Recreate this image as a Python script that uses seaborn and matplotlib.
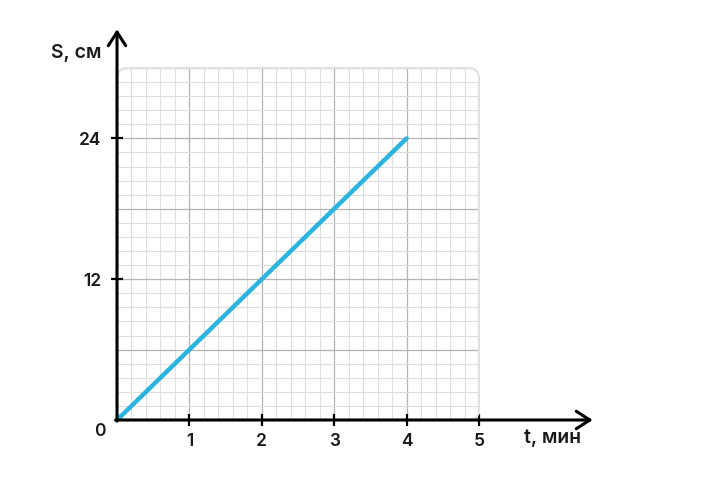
import matplotlib
matplotlib.use("Agg")
import matplotlib.pyplot as plt
import seaborn as sns
import pandas as pd
import numpy as np
from matplotlib.patches import FancyBboxPatch

# data
t_values = [0, 4]
s_values = [0, 24]
x_tick_labels = ['', '1', '2', '3', '4', '5']
y_tick_labels = ['', '', '12', '', '24', '']

df = pd.DataFrame({'t': t_values, 'S': s_values})

sns.set_style('white')
plt.rcParams['font.family'] = ['Inter', 'DejaVu Sans']
weight = 'semibold'

fig = plt.figure(figsize=(7.2, 4.94), dpi=100)
ax = fig.add_axes([117 / 720, 74 / 494, 362 / 720, 352 / 494])

sns.lineplot(data=df, x='t', y='S', color='#2ab4de', linewidth=3.2,
             solid_capstyle='round', ax=ax, zorder=5)

ax.set_xlim(0, 5)
ax.set_ylim(0, 30)
ax.set_xticks(np.arange(0, 6, 1))
ax.set_yticks(np.arange(0, 31, 6))
ax.set_xticks(np.arange(0, 5.01, 0.2), minor=True)
ax.set_yticks(np.arange(0, 30.01, 1.2), minor=True)
ax.set_xticklabels(x_tick_labels, fontweight=weight)
ax.set_yticklabels(y_tick_labels, fontweight=weight)
ax.set_xlabel('')
ax.set_ylabel('')

ax.grid(which='major', color='#b4b4b4', linewidth=0.9)
ax.grid(which='minor', color='#dedede', linewidth=0.8)
ax.tick_params(which='minor', length=0)
ax.tick_params(which='major', bottom=True, left=True, direction='inout',
               length=9, width=1.6, color='black', labelsize=12.5,
               labelcolor='#1a1a1a')
ax.tick_params(axis='x', pad=5)
ax.tick_params(axis='y', pad=7)

# hide tick marks that aren't in the reference
for i, tk in enumerate(ax.yaxis.get_major_ticks()):
    if y_tick_labels[i] == '':
        tk.tick1line.set_visible(False)
ax.xaxis.get_major_ticks()[0].tick1line.set_visible(False)

for sp in ax.spines.values():
    sp.set_visible(False)

# rounded border for the grid area
frame = FancyBboxPatch((0, 0), 1, 1, boxstyle='round,pad=0,rounding_size=0.03',
                       transform=ax.transAxes, facecolor='none',
                       edgecolor='#e0e0e0', linewidth=1.5, clip_on=False)
ax.add_patch(frame)
for tk in ax.xaxis.get_major_ticks() + ax.xaxis.get_minor_ticks() + \
        ax.yaxis.get_major_ticks() + ax.yaxis.get_minor_ticks():
    tk.gridline.set_clip_path(frame)

# axis arrows
arrow = dict(arrowstyle='->,head_length=0.7,head_width=0.45', color='black',
             linewidth=2.2, shrinkA=0, shrinkB=0, mutation_scale=14)
ax.annotate('', xy=(6.57, 0), xytext=(-0.02, 0), xycoords='data',
            arrowprops=arrow, annotation_clip=False, zorder=6)
ax.annotate('', xy=(0, 33.3), xytext=(0, -0.1), xycoords='data',
            arrowprops=arrow, annotation_clip=False, zorder=6)

ax.text(-0.24, -1.0, '0', ha='center', va='center', fontsize=12.5,
        fontweight=weight, color='#1a1a1a')
ax.text(6.01, -1.55, 't, мин', ha='center', va='center', fontsize=14,
        fontweight=weight, color='#1a1a1a')
ax.text(-0.57, 31.3, 'S, см', ha='center', va='center', fontsize=14,
        fontweight=weight, color='#1a1a1a')

fig.savefig('out.png', dpi=100)
